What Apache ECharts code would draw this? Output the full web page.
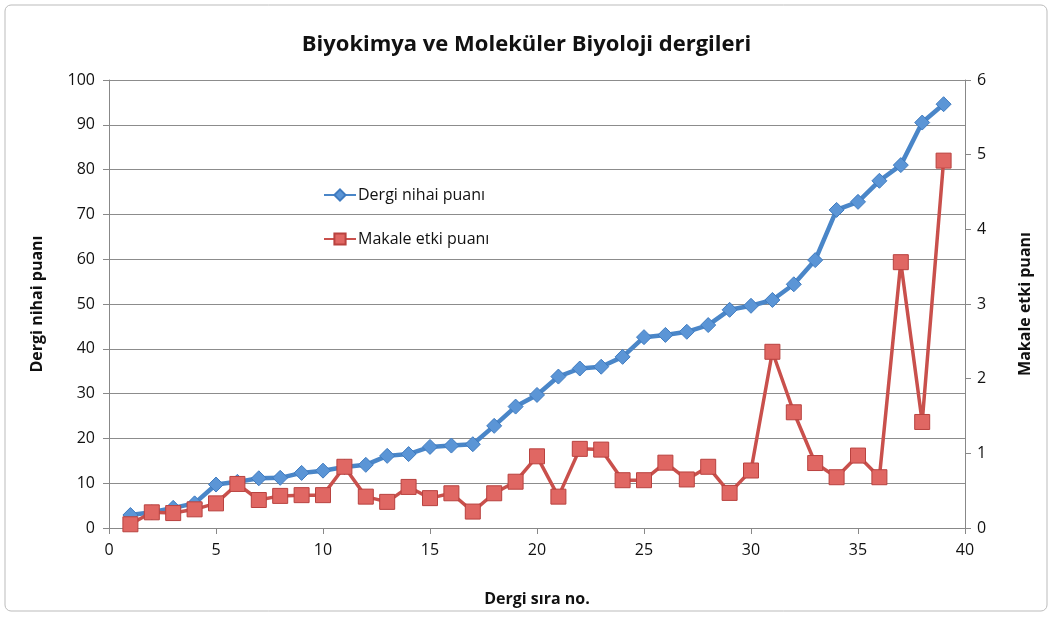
<!DOCTYPE html>
<html><head><meta charset="utf-8">
<script src="https://cdn.jsdelivr.net/npm/echarts@6/dist/echarts.min.js"></script>
<style>html,body{margin:0;padding:0;background:#fff}#c{width:1053px;height:619px}</style>
</head><body><div id="c"></div>
<script>
const ranks = [1,2,3,4,5,6,7,8,9,10,11,12,13,14,15,16,17,18,19,20,21,22,23,24,25,26,27,28,29,30,31,32,33,34,35,36,37,38,39];
const nihaiPuan = [2.9,3.5,4.5,5.5,9.7,10.3,11.1,11.2,12.3,12.8,13.6,14.1,16.1,16.5,18.1,18.4,18.7,22.8,27.1,29.7,33.8,35.6,36.0,38.2,42.6,43.1,43.8,45.3,48.7,49.6,50.9,54.4,59.8,71.0,72.8,77.5,81.0,90.5,94.6];
const etkiPuan = [0.05,0.21,0.2,0.25,0.33,0.59,0.375,0.43,0.44,0.44,0.82,0.42,0.35,0.55,0.4,0.465,0.22,0.465,0.62,0.96,0.42,1.06,1.05,0.64,0.64,0.875,0.65,0.82,0.47,0.77,2.36,1.55,0.87,0.68,0.97,0.68,3.56,1.42,4.92];
const xTicks = [0,5,10,15,20,25,30,35,40];

const font = '"Open Sans", "Liberation Sans", sans-serif';
const chart = echarts.init(document.getElementById('c'));
const axisLine = {show:true, lineStyle:{color:'#888', width:1}};
chart.setOption({
  animation:false,
  textStyle:{fontFamily:font},
  title:{text:'Biyokimya ve Moleküler Biyoloji dergileri', left:'center', top:29,
    textStyle:{fontSize:22, fontWeight:'bold', color:'#111', fontFamily:font}},
  graphic:[{type:'rect', shape:{x:5,y:5,width:1042,height:606,r:6}, style:{fill:'none', stroke:'#bbb', lineWidth:1}, silent:true}],
  legend:{orient:'vertical', left:318, top:182, itemGap:28, itemWidth:32, itemHeight:14,
    textStyle:{fontSize:16, color:'#111', fontFamily:font, padding:[0,0,0,-3]},
    data:['Dergi nihai puanı','Makale etki puanı']},
  grid:{left:109, right:88, top:80, bottom:91},
  xAxis:{type:'value', min:0, max:40, interval:5,
    name:'Dergi sıra no.', nameLocation:'middle', nameGap:63,
    nameTextStyle:{fontSize:16, fontWeight:'bold', color:'#111'},
    axisLine:axisLine, axisTick:{show:true, length:6, lineStyle:{color:'#888'}},
    axisLabel:{fontSize:16, color:'#111', margin:14, formatter:v=>xTicks.includes(v)?String(v):''},
    splitLine:{show:false}},
  yAxis:[
    {type:'value', min:0, max:100, interval:10, position:'left',
     name:'Dergi nihai puanı', nameLocation:'middle', nameGap:64, nameRotate:90,
     nameTextStyle:{fontSize:16, fontWeight:'bold', color:'#111'},
     axisLine:axisLine, axisTick:{show:true, length:6, lineStyle:{color:'#888'}},
     axisLabel:{fontSize:16, color:'#111', margin:14},
     splitLine:{show:true, lineStyle:{color:'#8c8c8c', width:1}}},
    {type:'value', min:0, max:6, interval:1, position:'right',
     name:'Makale etki puanı', nameLocation:'middle', nameGap:52, nameRotate:90,
     nameTextStyle:{fontSize:16, fontWeight:'bold', color:'#111'},
     axisLine:axisLine, axisTick:{show:true, length:6, lineStyle:{color:'#888'}},
     axisLabel:{fontSize:16, color:'#111', margin:12},
     splitLine:{show:false}}
  ],
  series:[
    {name:'Dergi nihai puanı', type:'line', yAxisIndex:0,
     data:ranks.map((r,i)=>[r,nihaiPuan[i]]),
     symbol:'diamond', symbolSize:15,
     lineStyle:{color:'#4a86c8', width:4.5},
     itemStyle:{color:'#5b95d6', borderColor:'#3f7bc0', borderWidth:1}},
    {name:'Makale etki puanı', type:'line', yAxisIndex:1,
     data:ranks.map((r,i)=>[r,etkiPuan[i]]),
     symbol:'rect', symbolSize:15,
     lineStyle:{color:'#c9504c', width:3.5},
     itemStyle:{color:'#e06763', borderColor:'#b9423f', borderWidth:1}}
  ]
});
</script></body></html>
